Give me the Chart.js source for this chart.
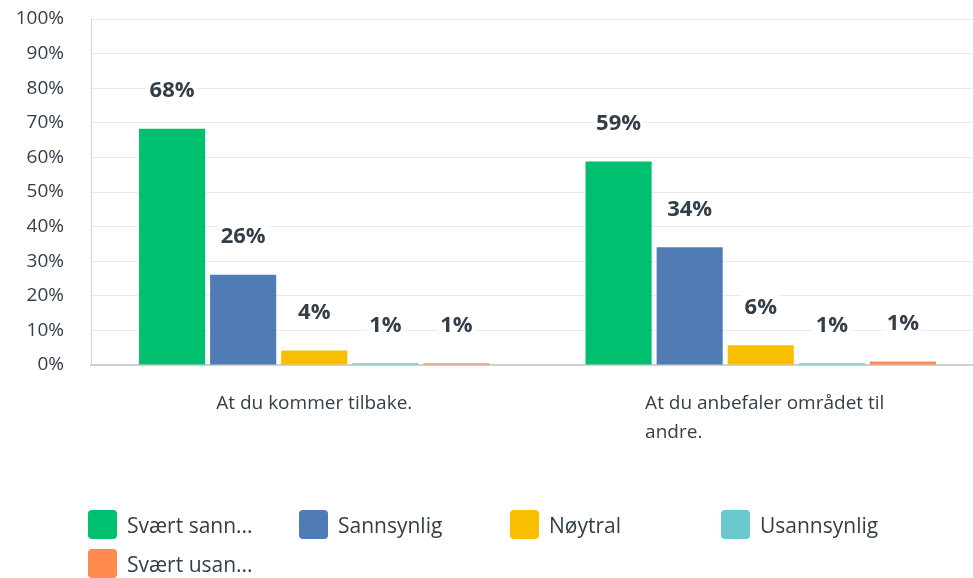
<!DOCTYPE html>
<html>
<head>
<meta charset="utf-8">
<script src="https://cdn.jsdelivr.net/npm/chart.js@4.4.1/dist/chart.umd.min.js"></script>
<style>
  html, body { margin: 0; padding: 0; background: #fff; overflow: hidden; }
  #wrap { position: relative; width: 984px; height: 578px; }
  #legend { position: absolute; left: 0; top: 0; font-family: "Open Sans", sans-serif; font-size: 21px; color: #333e48; }
  .item { position: absolute; display: flex; align-items: center; white-space: nowrap; }
  .box { width: 29px; height: 29px; border-radius: 4px; margin-right: 10px; }
</style>
</head>
<body>
<div id="wrap">
  <canvas id="chart" width="984" height="578"></canvas>
  <div id="legend"></div>
</div>
<script>
// Data
const categories = [
  ["At du kommer tilbake."],
  ["At du anbefaler området til", "andre."]
];
const seriesNames = ["Svært sann...", "Sannsynlig", "Nøytral", "Usannsynlig", "Svært usan..."];
const seriesColors = ["#00bf6f", "#507cb6", "#f9be00", "#6bc8cd", "#ff8b4f"];
const sværtSannsynlig = [68.3, 58.8];
const sannsynlig = [26.1, 34.0];
const nøytral = [4.2, 5.7];
const usannsynlig = [0.5, 0.5];
const sværtUsannsynlig = [0.5, 1.0];
const yTicks = [0, 10, 20, 30, 40, 50, 60, 70, 80, 90, 100];

const seriesValues = [sværtSannsynlig, sannsynlig, nøytral, usannsynlig, sværtUsannsynlig];
const textColor = "#333e48";
const fontFamily = '"Open Sans", sans-serif';

// prosent over hver søyle, med hvit bakgrunn
const valueLabels = {
  id: "valueLabels",
  afterDatasetsDraw(chart) {
    const ctx = chart.ctx;
    ctx.save();
    ctx.font = "bold 22px " + fontFamily;
    ctx.textAlign = "center";
    ctx.textBaseline = "middle";
    chart.data.datasets.forEach((ds, i) => {
      chart.getDatasetMeta(i).data.forEach((bar, j) => {
        const txt = Math.round(ds.data[j]) + "%";
        const w = ctx.measureText(txt).width;
        const y = bar.y - 38;
        ctx.fillStyle = "#fff";
        ctx.fillRect(bar.x - w / 2 - 3, y - 13, w + 6, 26);
        ctx.fillStyle = textColor;
        ctx.fillText(txt, bar.x, y);
      });
    });
    ctx.restore();
  }
};

// kategoritekst under aksen (venstrejustert blokk)
const categoryLabels = {
  id: "categoryLabels",
  afterDraw(chart) {
    const ctx = chart.ctx;
    const xScale = chart.scales.x;
    ctx.save();
    ctx.font = "19px " + fontFamily;
    ctx.fillStyle = textColor;
    ctx.textBaseline = "middle";
    ctx.textAlign = "left";
    categories.forEach((lines, i) => {
      const cx = xScale.getPixelForValue(i);
      const maxW = Math.max(...lines.map(l => ctx.measureText(l).width));
      lines.forEach((line, k) => {
        ctx.fillText(line, cx - maxW / 2 + (lines.length > 1 ? 4 : 0), chart.chartArea.bottom + 39 + k * 29);
      });
    });
    ctx.restore();
  }
};

new Chart(document.getElementById("chart"), {
  type: "bar",
  data: {
    labels: categories.map(c => c.join(" ")),
    datasets: seriesNames.map((name, i) => ({
      label: name,
      data: seriesValues[i],
      backgroundColor: seriesColors[i],
      barPercentage: 0.93,
      categoryPercentage: 0.796
    }))
  },
  options: {
    responsive: false,
    animation: false,
    layout: { padding: { top: 19, bottom: 205, left: 0, right: 0 } },
    plugins: {
      legend: { display: false },
      tooltip: { enabled: false }
    },
    scales: {
      x: {
        grid: { display: false },
        border: { display: true, color: "#d0d0d0", width: 2 },
        ticks: { display: false }
      },
      y: {
        min: 0,
        max: 100,
        afterBuildTicks(scale) {
          scale.ticks = yTicks.map(v => ({ value: v }));
        },
        afterFit(scale) { scale.width = 91; },
        grid: { color: "#ebebeb", drawTicks: true, tickLength: 23, tickColor: "rgba(0,0,0,0)" },
        border: { display: true, color: "#d6d6d6", width: 1 },
        ticks: {
          padding: 4,
          color: textColor,
          font: { family: fontFamily, size: 19 },
          callback: v => v + "%"
        }
      }
    }
  },
  plugins: [valueLabels, categoryLabels]
});

// legende
const legend = document.getElementById("legend");
seriesNames.forEach((name, i) => {
  const item = document.createElement("div");
  item.className = "item";
  item.style.left = (88 + (i % 4) * 211) + "px";
  item.style.top = (510 + Math.floor(i / 4) * 39) + "px";
  item.innerHTML = '<span class="box" style="background:' + seriesColors[i] + '"></span><span>' + name + '</span>';
  legend.appendChild(item);
});
</script>
</body>
</html>
